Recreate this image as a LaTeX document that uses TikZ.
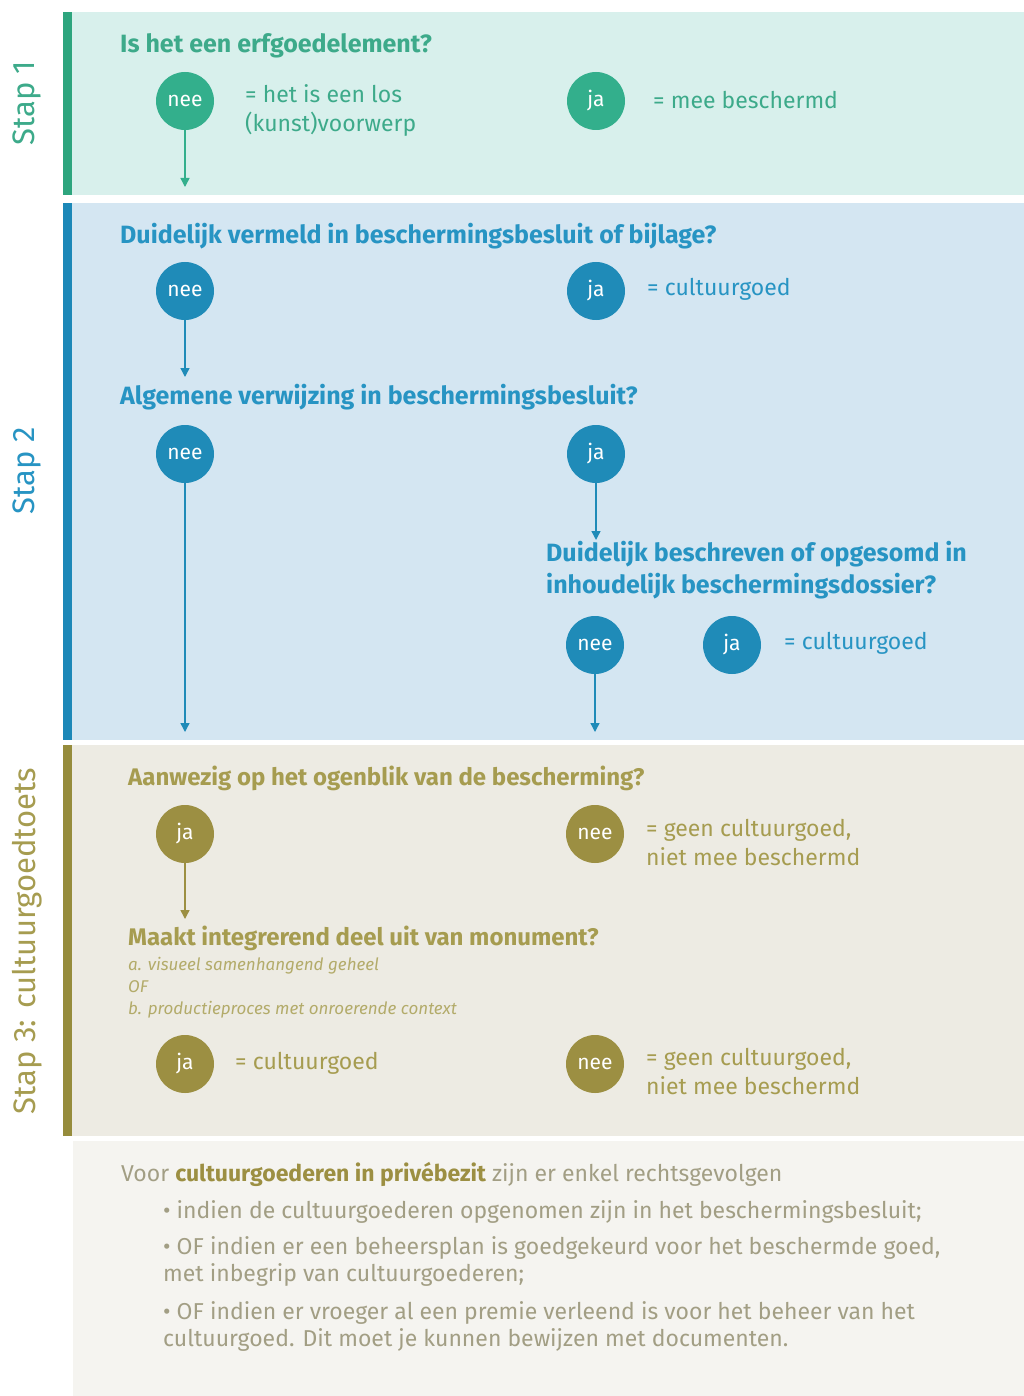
\documentclass[tikz,border=0pt]{standalone}
\usepackage{fontspec}
\setmainfont{Fira Sans}
\usetikzlibrary{arrows.meta}
\definecolor{gbg}{HTML}{D8F0EC}
\definecolor{gbar}{HTML}{2EA57E}
\definecolor{gcirc}{HTML}{33AF8C}
\definecolor{gtxt}{HTML}{3DAA8A}
\definecolor{bbg}{HTML}{D4E6F2}
\definecolor{bbar}{HTML}{1C88B8}
\definecolor{bcirc}{HTML}{1F8BB8}
\definecolor{btxt}{HTML}{2794C3}
\definecolor{obg}{HTML}{EDEBE3}
\definecolor{obar}{HTML}{968C3C}
\definecolor{ocirc}{HTML}{9C8F42}
\definecolor{otxt}{HTML}{A69C50}
\definecolor{fbg}{HTML}{F5F4F0}
\definecolor{ftxt}{HTML}{A29E84}
\tikzset{
  answer/.style={circle, minimum size=58pt, inner sep=0pt, text=white, font=\fontsize{21}{24}\selectfont},
  question/.style={anchor=west, inner sep=0pt, font=\fontsize{25}{32}\selectfont\bfseries, align=left},
  result/.style={anchor=west, inner sep=0pt, font=\fontsize{23}{29}\selectfont, align=left},
  steplabel/.style={rotate=90, inner sep=0pt, font=\fontsize{31}{36}\selectfont},
  foot/.style={inner sep=0pt, text=ftxt, font=\fontsize{23}{27}\selectfont, align=left},
  flow/.style={line width=1.4pt, -{Triangle[width=9pt,length=9pt]}},
}
\begin{document}
\begin{tikzpicture}[x=1pt,y=-1pt]
\useasboundingbox (0,0) rectangle (1024,1396);
\fill[white] (0,0) rectangle (1024,1396);
% panels
\fill[gbg] (63,12) rectangle (1024,195);
\fill[gbar] (63,12) rectangle (72,195);
\fill[bbg] (63,203) rectangle (1024,740);
\fill[bbar] (63,203) rectangle (72,740);
\fill[obg] (63,745) rectangle (1024,1136);
\fill[obar] (63,745) rectangle (72,1136);
\fill[fbg] (73,1141) rectangle (1024,1396);
% step labels
\node[steplabel, text=gtxt] (s1) at (27,103) {Stap 1};
\node[steplabel, text=btxt] (s2) at (27,471) {Stap 2};
\node[steplabel, text=otxt] (s3) at (27,941) {Stap 3: cultuurgoedtoets};
% Stap 1
\node[question, text=gtxt] (q1) at (120,46) {Is het een erfgoedelement?};
\node[answer, fill=gcirc] (n1) at (185,101) {nee};
\node[answer, fill=gcirc] (j1) at (596,101) {ja};
\node[result, text=gtxt, anchor=north west] (r1) at (245,84) {= het is een los\\(kunst)voorwerp};
\node[result, text=gtxt] (r1b) at (653,100) {= mee beschermd};
\coordinate (e1) at (185,187);
\draw[flow, draw=gcirc] (n1) -- (e1);
% Stap 2
\node[question, text=btxt] (q2) at (120,236) {Duidelijk vermeld in beschermingsbesluit of bijlage?};
\node[answer, fill=bcirc] (n2) at (185,291) {nee};
\node[answer, fill=bcirc] (j2) at (596,291) {ja};
\node[result, text=btxt] (r2) at (647,289) {= cultuurgoed};
\node[question, text=btxt] (q3) at (120,397) {Algemene verwijzing in beschermingsbesluit?};
\coordinate (e2) at (185,377);
\draw[flow, draw=bcirc] (n2) -- (e2);
\node[answer, fill=bcirc] (n3) at (185,454) {nee};
\node[answer, fill=bcirc] (j3) at (596,454) {ja};
\node[question, text=btxt, anchor=north west, font=\fontsize{25}{32}\selectfont\bfseries] (q4) at (546,541) {Duidelijk beschreven of opgesomd in\\inhoudelijk beschermingsdossier?};
\coordinate (e3a) at (596,540);
\draw[flow, draw=bcirc] (j3) -- (e3a);
\node[answer, fill=bcirc] (n4) at (595,645) {nee};
\node[answer, fill=bcirc] (j4) at (732,645) {ja};
\node[result, text=btxt] (r4) at (784,643) {= cultuurgoed};
\coordinate (e3) at (185,732);
\coordinate (e4) at (595,732);
\draw[flow, draw=bcirc] (n3) -- (e3);
\draw[flow, draw=bcirc] (n4) -- (e4);
% Stap 3
\node[question, text=otxt, font=\fontsize{24}{30}\selectfont\bfseries] (q5) at (128,778) {Aanwezig op het ogenblik van de bescherming?};
\node[answer, fill=ocirc] (j5) at (185,834) {ja};
\node[answer, fill=ocirc] (n5) at (595,834) {nee};
\node[result, text=otxt, anchor=north west] (r5) at (646,819) {= geen cultuurgoed,\\niet mee beschermd};
\node[question, text=otxt, font=\fontsize{24}{30}\selectfont\bfseries] (q6) at (128,938) {Maakt integrerend deel uit van monument?};
\coordinate (e5) at (185,919);
\draw[flow, draw=ocirc] (j5) -- (e5);
\node[anchor=north west, inner sep=0pt, text=otxt!85, font=\fontsize{17}{22}\selectfont\itshape, align=left] (sub) at (128,957) {a. visueel samenhangend geheel\\OF\\b. productieproces met onroerende context};
\node[answer, fill=ocirc] (j6) at (185,1064) {ja};
\node[result, text=otxt] (r6) at (235,1063) {= cultuurgoed};
\node[answer, fill=ocirc] (n6) at (595,1064) {nee};
\node[result, text=otxt, anchor=north west] (r6b) at (646,1048) {= geen cultuurgoed,\\niet mee beschermd};
% footer
\node[foot, anchor=west] (f0) at (121,1174) {Voor \textcolor{ocirc}{\bfseries cultuurgoederen in privébezit} zijn er enkel rechtsgevolgen};
\node[foot, anchor=west] (f1) at (163,1212) {• indien de cultuurgoederen opgenomen zijn in het beschermingsbesluit;};
\node[foot, anchor=north west] (f2) at (163,1236) {• OF indien er een beheersplan is goedgekeurd voor het beschermde goed,\\met inbegrip van cultuurgoederen;};
\node[foot, anchor=north west] (f3) at (163,1301) {• OF indien er vroeger al een premie verleend is voor het beheer van het\\cultuurgoed. Dit moet je kunnen bewijzen met documenten.};
\end{tikzpicture}
\end{document}
